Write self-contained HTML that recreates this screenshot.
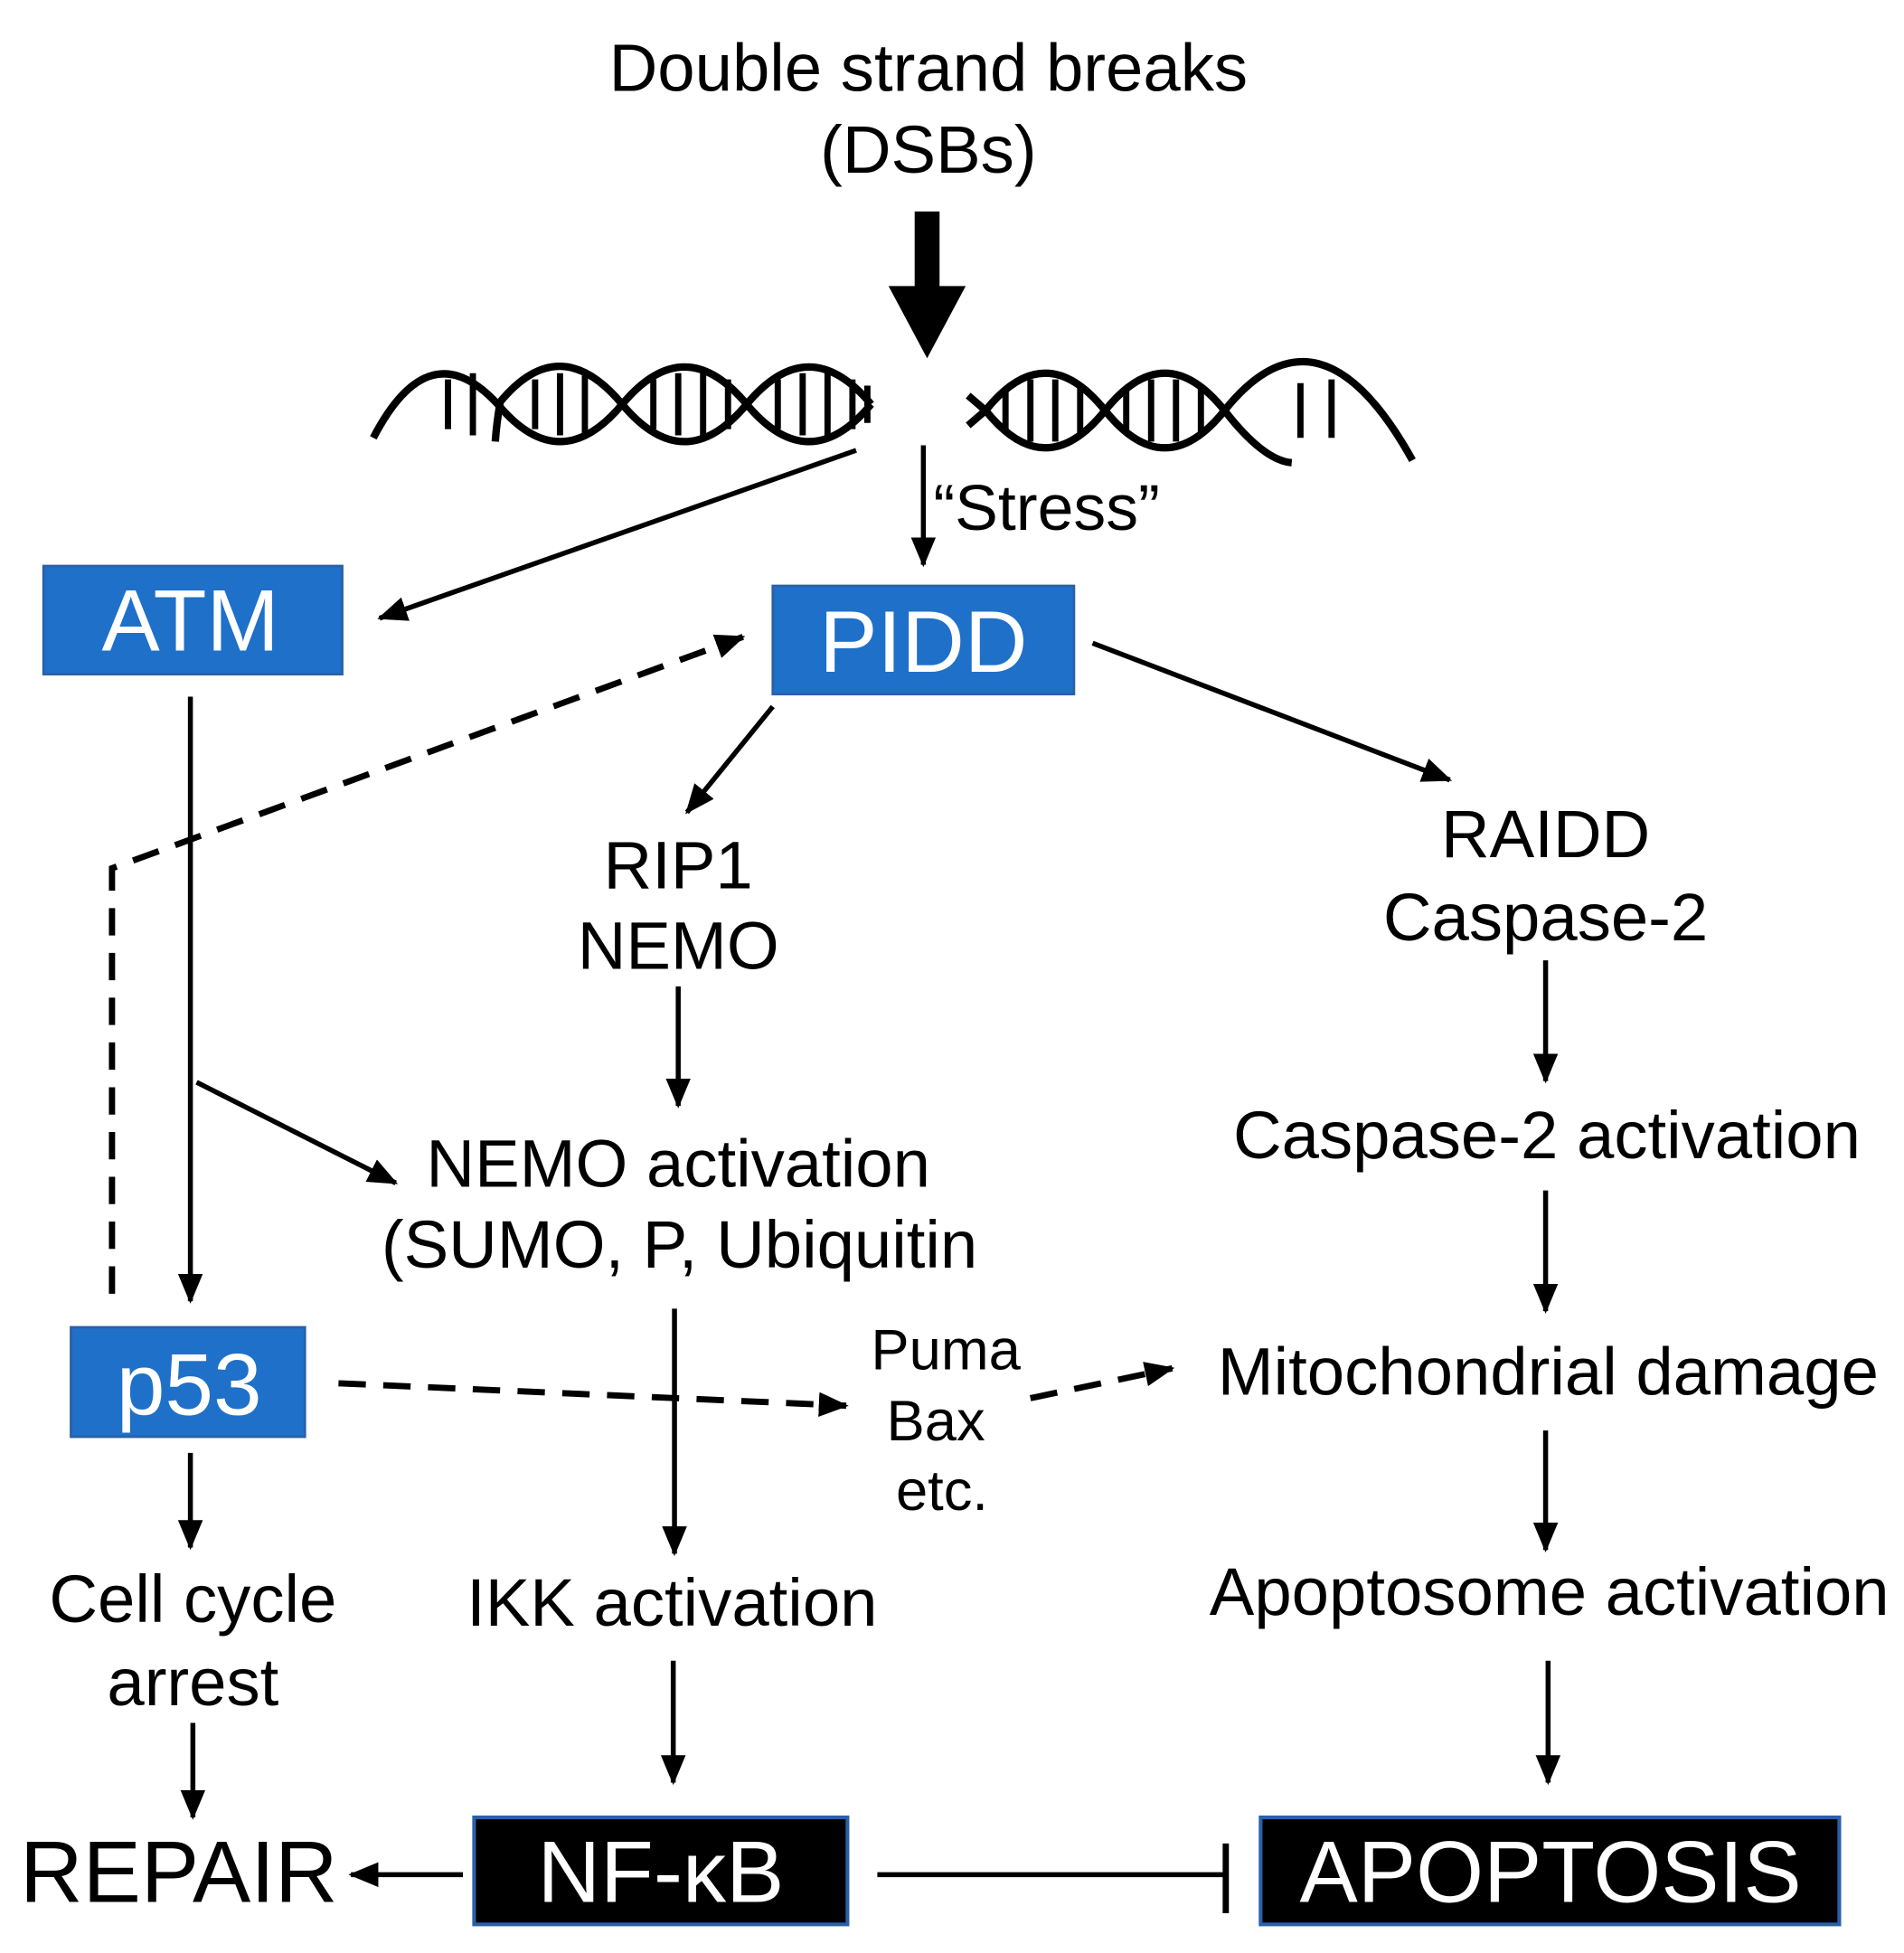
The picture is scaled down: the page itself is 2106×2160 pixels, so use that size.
<!DOCTYPE html>
<html><head><meta charset="utf-8"><style>
html,body{margin:0;padding:0;background:#fff;}
svg{display:block;}
text{font-family:"Liberation Sans",Arial,sans-serif;fill:#000;}
</style></head><body>
<svg width="2106" height="2160" viewBox="0 0 1530 1570" preserveAspectRatio="none" xmlns="http://www.w3.org/2000/svg">
<defs>
<marker id="a" markerUnits="userSpaceOnUse" markerWidth="24" markerHeight="20" refX="22" refY="10" orient="auto"><path d="M0,0 L24,10 L0,20 Z" fill="#000"/></marker>
</defs>
<g stroke="#000" fill="none">
<rect x="735" y="170" width="20" height="62" fill="#000" stroke="none"/>
<path d="M714,230 L776,230 L745,288 Z" fill="#000" stroke="none"/>
<!-- DNA left -->
<g stroke-width="6">
<path d="M300,352 Q345,265 400,325 Q450,385 500,325 T600,325 T700,325"/>
<path d="M398,355 Q399,340 402,323 Q450,265 500,325 T600,325 T700,325"/>
</g>
<g stroke-width="5">
<path d="M360,305V345 M380,300V350 M430,305V345 M450,300V350 M470,302V348 M525,305V345 M545,300V350 M565,300V350 M585,305V345 M625,305V345 M645,300V350 M665,300V350 M685,305V345 M697,310V340"/>
</g>
<!-- DNA right -->
<g stroke-width="6">
<path d="M778,318 L792,330 Q840,390 888,330 T984,330 Q1060,235 1135,370"/>
<path d="M778,342 L792,330 Q840,270 888,330 T984,330 Q1015,370 1038,372"/>
</g>
<g stroke-width="5">
<path d="M808,312V348 M828,305V355 M848,305V355 M868,310V350 M905,312V348 M925,305V355 M945,305V355 M965,310V350 M1045,308V352 M1070,305V352"/>
</g>
<g stroke-width="4" marker-end="url(#a)">
<line x1="688" y1="362" x2="305" y2="497"/>
<line x1="742" y1="358" x2="742" y2="454"/>
<line x1="878" y1="517" x2="1165" y2="627"/>
<line x1="621" y1="568" x2="552" y2="653"/>
<line x1="153" y1="560" x2="153" y2="1046"/>
<line x1="158" y1="870" x2="318" y2="951"/>
<line x1="545" y1="793" x2="545" y2="889"/>
<line x1="542" y1="1052" x2="542" y2="1249"/>
<line x1="541" y1="1335" x2="541" y2="1433"/>
<line x1="153" y1="1168" x2="153" y2="1244"/>
<line x1="155" y1="1385" x2="155" y2="1461"/>
<line x1="372" y1="1507" x2="282" y2="1507"/>
<line x1="1242" y1="772" x2="1242" y2="869"/>
<line x1="1242" y1="957" x2="1242" y2="1054"/>
<line x1="1242" y1="1150" x2="1242" y2="1246"/>
<line x1="1244" y1="1335" x2="1244" y2="1433"/>
</g>
<g stroke-width="5" stroke-dasharray="22,14" marker-end="url(#a)">
<path d="M90,1040 V698 L597,512"/>
<line x1="272" y1="1112" x2="680" y2="1130"/>
<line x1="828" y1="1124" x2="942" y2="1100"/>
</g>
<line x1="705" y1="1507" x2="985" y2="1507" stroke-width="4"/>
<line x1="985" y1="1482" x2="985" y2="1538" stroke-width="5"/>
</g>
<rect x="35" y="455" width="240" height="87" fill="#1f70c8" stroke="#2a60a8" stroke-width="2"/>
<rect x="621" y="471" width="242" height="87" fill="#1f70c8" stroke="#2a60a8" stroke-width="2"/>
<rect x="57" y="1067" width="188" height="88" fill="#1f70c8" stroke="#2a60a8" stroke-width="2"/>
<rect x="381" y="1461" width="300" height="86" fill="#000" stroke="#2a60a8" stroke-width="3"/>
<rect x="1013" y="1461" width="465" height="86" fill="#000" stroke="#2a60a8" stroke-width="3"/>
<g text-anchor="middle">
<text x="153" y="523" font-size="70" style="fill:#fff">ATM</text>
<text x="742" y="540" font-size="70" style="fill:#fff">PIDD</text>
<text x="152" y="1137" font-size="70" style="fill:#fff">p53</text>
<text x="531" y="1529" font-size="70" style="fill:#fff">NF-κB</text>
<text x="1246" y="1529" font-size="70" style="fill:#fff">APOPTOSIS</text>
<text x="746" y="73" font-size="54">Double strand breaks</text>
<text x="746" y="139" font-size="54">(DSBs)</text>
<text x="545" y="714" font-size="54">RIP1</text>
<text x="545" y="779" font-size="54">NEMO</text>
<text x="545" y="954" font-size="54">NEMO activation</text>
<text x="546" y="1019" font-size="54">(SUMO, P, Ubiquitin</text>
<text x="540" y="1307" font-size="54">IKK activation</text>
<text x="155" y="1304" font-size="54">Cell cycle</text>
<text x="155" y="1371" font-size="54">arrest</text>
<text x="760" y="1101" font-size="46">Puma</text>
<text x="752" y="1158" font-size="46">Bax</text>
<text x="757" y="1214" font-size="46">etc.</text>
<text x="1242" y="689" font-size="54">RAIDD</text>
<text x="1242" y="756" font-size="54">Caspase-2</text>
<text x="1243" y="931" font-size="54">Caspase-2 activation</text>
<text x="1244" y="1121" font-size="54">Mitochondrial damage</text>
<text x="1245" y="1298" font-size="54">Apoptosome activation</text>
</g>
<text x="750" y="426" font-size="52">“Stress”</text>
<text x="16" y="1529" font-size="70">REPAIR</text>
</svg>
</body></html>
